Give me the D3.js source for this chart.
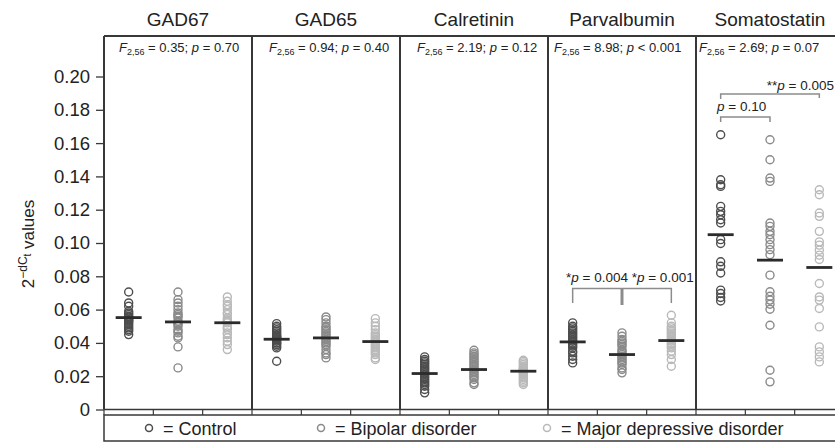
<!DOCTYPE html>
<html>
<head>
<meta charset="utf-8">
<script src="https://cdn.jsdelivr.net/npm/d3@7"></script>
<style>
	body { margin: 0; background: #fff; }
	svg { display: block; font-family: "Liberation Sans", Arial, Helvetica, sans-serif; }
</style>
</head>
<body>
<svg width="835" height="444"></svg>
<script>
// chart data
const panels = ['GAD67', 'GAD65', 'Calretinin', 'Parvalbumin', 'Somatostatin'],
	groups = ['Control', 'Bipolar disorder', 'Major depressive disorder'],
	fValues = ['0.35', '0.94', '2.19', '8.98', '2.69'],
	pValues = ['= 0.70', '= 0.40', '= 0.12', '< 0.001', '= 0.07'],
	yTicks = [0, 0.02, 0.04, 0.06, 0.08, 0.10, 0.12, 0.14, 0.16, 0.18, 0.20];

// one array per group: control, bipolar, mdd
const gad67 = [
	[0.0706, 0.064, 0.062, 0.059, 0.058, 0.057, 0.056, 0.0555, 0.055, 0.054, 0.054, 0.053, 0.053, 0.052, 0.051, 0.05, 0.049, 0.048, 0.047, 0.045],
	[0.0706, 0.066, 0.064, 0.062, 0.06, 0.058, 0.057, 0.056, 0.055, 0.053, 0.052, 0.051, 0.05, 0.048, 0.047, 0.046, 0.044, 0.043, 0.0376, 0.025],
	[0.0676, 0.065, 0.063, 0.062, 0.06, 0.058, 0.057, 0.055, 0.054, 0.053, 0.052, 0.05, 0.049, 0.048, 0.046, 0.045, 0.043, 0.041, 0.039, 0.036]
];
const gad65 = [
	[0.0516, 0.05, 0.049, 0.048, 0.047, 0.046, 0.045, 0.044, 0.044, 0.043, 0.043, 0.042, 0.042, 0.041, 0.04, 0.04, 0.039, 0.038, 0.037, 0.029],
	[0.0556, 0.054, 0.052, 0.05, 0.049, 0.048, 0.047, 0.046, 0.045, 0.044, 0.043, 0.042, 0.041, 0.04, 0.039, 0.038, 0.036, 0.034, 0.033, 0.031],
	[0.0546, 0.052, 0.05, 0.048, 0.046, 0.045, 0.044, 0.043, 0.042, 0.041, 0.04, 0.039, 0.038, 0.037, 0.036, 0.035, 0.034, 0.033, 0.031, 0.03]
];
const calretinin = [
	[0.0316, 0.03, 0.029, 0.028, 0.027, 0.026, 0.025, 0.024, 0.023, 0.022, 0.021, 0.02, 0.019, 0.018, 0.017, 0.016, 0.015, 0.014, 0.012, 0.01],
	[0.0356, 0.034, 0.033, 0.032, 0.031, 0.03, 0.029, 0.028, 0.027, 0.026, 0.025, 0.024, 0.023, 0.022, 0.021, 0.02, 0.019, 0.018, 0.016, 0.015],
	[0.0296, 0.029, 0.028, 0.027, 0.026, 0.025, 0.025, 0.024, 0.024, 0.023, 0.023, 0.022, 0.022, 0.021, 0.02, 0.019, 0.018, 0.017, 0.016, 0.015]
];
const parvalbumin = [
	[0.052, 0.05, 0.049, 0.048, 0.047, 0.046, 0.045, 0.044, 0.043, 0.042, 0.041, 0.04, 0.039, 0.038, 0.037, 0.035, 0.034, 0.032, 0.03, 0.028],
	[0.046, 0.044, 0.042, 0.041, 0.04, 0.039, 0.038, 0.036, 0.035, 0.034, 0.033, 0.032, 0.031, 0.03, 0.029, 0.028, 0.027, 0.025, 0.024, 0.022],
	[0.0566, 0.052, 0.05, 0.049, 0.048, 0.047, 0.046, 0.045, 0.044, 0.043, 0.042, 0.041, 0.04, 0.039, 0.038, 0.037, 0.035, 0.033, 0.03, 0.026]
];
const somatostatin = [
	[0.165, 0.138, 0.135, 0.134, 0.122, 0.119, 0.117, 0.114, 0.112, 0.102, 0.0997, 0.0887, 0.086, 0.082, 0.0717, 0.0697, 0.0673, 0.0652],
	[0.162, 0.150, 0.139, 0.137, 0.112, 0.110, 0.107, 0.105, 0.102, 0.099, 0.096, 0.093, 0.0807, 0.0707, 0.068, 0.0657, 0.0632, 0.0602, 0.0506, 0.0236, 0.0166],
	[0.132, 0.129, 0.118, 0.116, 0.107, 0.1007, 0.0987, 0.0957, 0.0927, 0.0901, 0.0757, 0.0676, 0.0657, 0.0607, 0.0496, 0.0376, 0.0346, 0.0316, 0.0286]
];
// group means (horizontal bars)
const means = [
	[0.0552, 0.0526, 0.0521],
	[0.0422, 0.043, 0.0408],
	[0.0216, 0.024, 0.023],
	[0.0406, 0.033, 0.0414],
	[0.105, 0.0897, 0.0853]
];
const values = [gad67, gad65, calretinin, parvalbumin, somatostatin];

const left = 104,
	panelW = 148,
	frameTop = 36,
	baseY = 409.5,
	statX = [15, 17, 17, 6, 3],
	colors = ['#4d4d4d', '#8a8a8a', '#b9b9b9'],
	frameColor = '#383838',
	bracketColor = '#8c8c8c';

const svg = d3.select('svg');

const yScale = d3.scaleLinear().domain([0, 0.2]).range([baseY, 76.5]),
	xPanel = d3.scaleBand().domain(panels).range([left, left + panelW * panels.length]),
	xGroup = d3.scaleBand().domain(groups).range([0, panelW]);

const cx = (p, g) => xPanel(p) + xGroup(g) + xGroup.bandwidth() / 2;

drawFrame();
drawPoints();
drawNotes();
drawLegend();

function drawFrame() {
	let right = left + panelW * panels.length;

	// top line and panel dividers
	svg.append('line')
		.attr('x1', left).attr('x2', right)
		.attr('y1', frameTop).attr('y2', frameTop)
		.attr('stroke', frameColor).attr('stroke-width', 2);

	svg.selectAll('.divider')
		.data(panels.concat(['end']))
		.enter()
		.append('line')
		.attr('class', 'divider')
		.attr('x1', (d, i) => left + i * panelW)
		.attr('x2', (d, i) => left + i * panelW)
		.attr('y1', frameTop).attr('y2', baseY)
		.attr('stroke', frameColor).attr('stroke-width', 2);

	// x base line with ticks between groups
	svg.append('line')
		.attr('x1', left).attr('x2', right)
		.attr('y1', baseY).attr('y2', baseY)
		.attr('stroke', frameColor).attr('stroke-width', 1.5);

	let ticks = [];
	panels.forEach(p => groups.forEach(g => ticks.push(xPanel(p) + xGroup(g))));
	ticks.push(right);
	svg.selectAll('.xtick')
		.data(ticks)
		.enter()
		.append('line')
		.attr('class', 'xtick')
		.attr('x1', d => d).attr('x2', d => d)
		.attr('y1', baseY).attr('y2', 415)
		.attr('stroke', frameColor).attr('stroke-width', 1.2);

	// y axis
	let yAxis = svg.append('g')
		.attr('transform', `translate(${left},0)`)
		.call(d3.axisLeft(yScale)
			.tickValues(yTicks)
			.tickSize(8)
			.tickPadding(6)
			.tickFormat(d => d === 0 ? '0' : d3.format('.2f')(d)));
	yAxis.select('.domain').remove();
	yAxis.selectAll('line').attr('stroke', frameColor).attr('stroke-width', 1.3);
	yAxis.selectAll('text')
		.attr('font-size', 18.5)
		.attr('font-family', '"Liberation Sans", Arial, sans-serif')
		.attr('fill', '#222');

	// y label
	let lab = svg.append('text')
		.attr('transform', 'translate(34,244) rotate(-90)')
		.attr('text-anchor', 'middle')
		.attr('font-size', 17)
		.attr('fill', '#222');
	lab.append('tspan').text('2');
	lab.append('tspan').attr('font-size', 12).attr('dy', -7).text('\u2212dC');
	lab.append('tspan').attr('font-size', 10).attr('dy', 4).text('t');
	lab.append('tspan').attr('dy', 3).text(' values');

	// panel titles
	svg.selectAll('.ptitle')
		.data(panels)
		.enter()
		.append('text')
		.attr('class', 'ptitle')
		.attr('x', d => xPanel(d) + panelW / 2)
		.attr('y', 26)
		.attr('text-anchor', 'middle')
		.attr('font-size', 19)
		.attr('fill', '#222')
		.text(d => d);

	// F statistics
	panels.forEach((p, i) => {
		let t = svg.append('text')
			.attr('x', xPanel(p) + statX[i])
			.attr('y', 52)
			.attr('font-size', 13)
			.attr('fill', '#222');
		t.append('tspan').attr('font-style', 'italic').text('F');
		t.append('tspan').attr('font-size', 9).attr('dy', 3).text('2,56');
		t.append('tspan').attr('dy', -3).text(` = ${fValues[i]}; `);
		t.append('tspan').attr('font-style', 'italic').text('p');
		t.append('tspan').text(` ${pValues[i]}`);
	});
}

function drawPoints() {
	panels.forEach((p, i) => {
		groups.forEach((g, j) => {
			svg.selectAll(null)
				.data(values[i][j])
				.enter()
				.append('circle')
				.attr('cx', cx(p, g))
				.attr('cy', d => yScale(d))
				.attr('r', 4)
				.attr('fill', 'none')
				.attr('stroke', colors[j])
				.attr('stroke-width', 1.4);
		});

		// mean bars
		svg.selectAll(null)
			.data(means[i])
			.enter()
			.append('line')
			.attr('x1', (d, j) => cx(p, groups[j]) - 13)
			.attr('x2', (d, j) => cx(p, groups[j]) + 13)
			.attr('y1', d => yScale(d))
			.attr('y2', d => yScale(d))
			.attr('stroke', '#2b2b2b')
			.attr('stroke-width', 2.8);
	});
}

function note(x, yy, parts, anchor) {
	let t = svg.append('text')
		.attr('x', x).attr('y', yy)
		.attr('font-size', 13.5)
		.attr('text-anchor', anchor || 'start')
		.attr('fill', '#222');
	parts.forEach(s => {
		t.append('tspan').attr('font-style', s === 'p' ? 'italic' : 'normal').text(s);
	});
}

function drawNotes() {
	// parvalbumin
	let a = cx('Parvalbumin', groups[0]),
		b = cx('Parvalbumin', groups[1]),
		c = cx('Parvalbumin', groups[2]);
	svg.append('path')
		.attr('d', `M${a},303V288.5H${c}V303`)
		.attr('fill', 'none').attr('stroke', bracketColor).attr('stroke-width', 1.5);
	svg.append('line')
		.attr('x1', b).attr('x2', b).attr('y1', 288.5).attr('y2', 305)
		.attr('stroke', bracketColor).attr('stroke-width', 3);
	note(566, 281.5, ['*', 'p', ' = 0.004 *', 'p', ' = 0.001']);

	// somatostatin
	a = cx('Somatostatin', groups[0]);
	b = cx('Somatostatin', groups[1]);
	c = cx('Somatostatin', groups[2]);
	svg.append('path')
		.attr('d', `M${a},99V94H${c}V98`)
		.attr('fill', 'none').attr('stroke', bracketColor).attr('stroke-width', 1.5);
	svg.append('path')
		.attr('d', `M${a},122V117H${b}V122`)
		.attr('fill', 'none').attr('stroke', bracketColor).attr('stroke-width', 1.5);
	note(834, 90, ['**', 'p', ' = 0.005'], 'end');
	note(717, 111, ['p', ' = 0.10']);
}

function drawLegend() {
	let legendX = [149, 321, 547];

	svg.append('rect')
		.attr('x', left).attr('y', 415)
		.attr('width', panelW * panels.length).attr('height', 26)
		.attr('fill', '#fff')
		.attr('stroke', frameColor).attr('stroke-width', 1.5);

	let items = svg.selectAll('.legend')
		.data(groups)
		.enter()
		.append('g')
		.attr('class', 'legend')
		.attr('transform', (d, i) => `translate(${legendX[i]},428)`);

	items.append('circle')
		.attr('r', 3.5)
		.attr('fill', 'none')
		.attr('stroke', (d, i) => colors[i])
		.attr('stroke-width', 1.5);

	items.append('text')
		.attr('x', 14)
		.attr('y', 6.5)
		.attr('font-size', 18)
		.attr('fill', '#222')
		.text(d => `= ${d}`);
}
</script>
</body>
</html>
